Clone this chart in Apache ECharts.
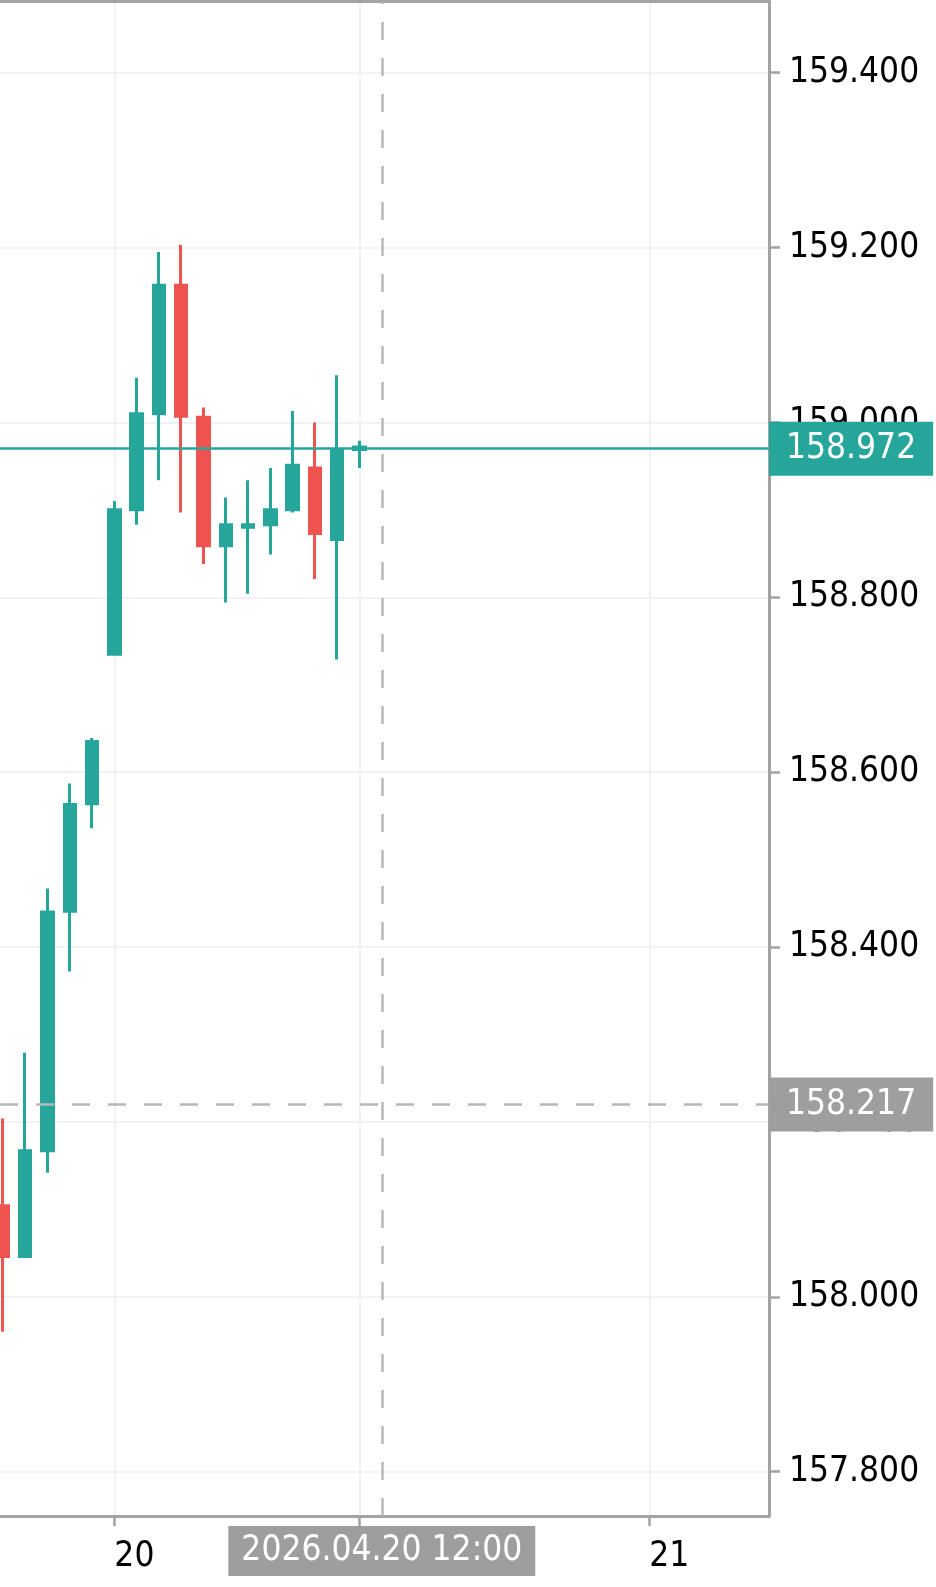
<!DOCTYPE html>
<html>
<head>
<meta charset="utf-8">
<script src="https://cdn.jsdelivr.net/npm/echarts@6/dist/echarts.min.js"></script>
<style>
html,body{margin:0;padding:0;background:#fff;}
#chart{width:936px;height:1587px;}
</style>
</head>
<body>
<div id="chart"></div>
<script>
// Hourly candles, x = hours relative to 2026-04-20 00:00
const hours = [-5, -4, -3, -2, -1, 0, 1, 2, 3, 4, 5, 6, 7, 8, 9, 10, 11];
const opens  = [158.104, 158.046, 158.167, 158.441, 158.564, 158.735, 158.900, 159.010, 159.157, 159.006, 158.859, 158.880, 158.883, 158.900, 158.948, 158.866, 158.969];
const closes = [158.046, 158.167, 158.440, 158.563, 158.635, 158.900, 159.010, 159.157, 159.007, 158.859, 158.883, 158.883, 158.900, 158.951, 158.873, 158.969, 158.972];
const lows   = [157.960, 158.046, 158.142, 158.372, 158.536, 158.735, 158.883, 158.934, 158.897, 158.838, 158.794, 158.804, 158.849, 158.897, 158.821, 158.729, 158.948];
const highs  = [158.204, 158.279, 158.467, 158.587, 158.639, 158.910, 159.051, 159.195, 159.203, 159.017, 158.914, 158.934, 158.948, 159.013, 159.000, 159.054, 158.979];

const xTickValues = [0, 11, 24];
const xLabelValues = [0, 24];
const xLabelTexts = ['20', '21'];
const xRange = [-5.13, 29.37];
const yRange = [157.7493, 159.4814];
const yStep = 0.2;

const lastPrice = 158.972;
const crossY = 158.217;
const crossX = 12;
const crossXLabel = '2026.04.20 12:00';

const FONT = "'DejaVu Sans Condensed', 'DejaVu Sans', sans-serif";
const GREEN = '#26a69a', RED = '#ef5350', AXIS = '#a3a3a3', GRID = '#f2f2f5', CROSS = '#b8b8b8', LABELBG = '#9e9e9e';

const candles = hours.map((h, i) => [h, opens[i], closes[i], lows[i], highs[i]]);

const chart = echarts.init(document.getElementById('chart'), null, {renderer: 'canvas'});
chart.setOption({
  animation: false,
  backgroundColor: '#fff',
  grid: {left: 0, right: 167, top: 1.5, bottom: 71, containLabel: false},
  xAxis: [{
    type: 'value', min: xRange[0], max: xRange[1], position: 'bottom',
    axisLine: {show: true, onZero: false, lineStyle: {color: AXIS, width: 3}},
    axisTick: {show: true, customValues: xTickValues, length: 10, lineStyle: {color: AXIS, width: 2.5}},
    axisLabel: {
      show: true, customValues: xLabelValues, align: 'left', margin: 23,
      fontFamily: FONT, fontSize: 35, color: '#000',
      formatter: v => xLabelTexts[xLabelValues.indexOf(v)] || ''
    },
    splitLine: {show: true, lineStyle: {color: GRID, width: 2}}
  }, {
    type: 'value', min: xRange[0], max: xRange[1], position: 'top',
    axisLine: {show: true, onZero: false, lineStyle: {color: AXIS, width: 3}},
    axisTick: {show: false}, axisLabel: {show: false}, splitLine: {show: false}
  }],
  yAxis: {
    type: 'value', position: 'right', min: yRange[0], max: yRange[1],
    minInterval: yStep, maxInterval: yStep, scale: true,
    axisLine: {show: true, onZero: false, lineStyle: {color: AXIS, width: 3}},
    axisTick: {show: true, length: 11, lineStyle: {color: AXIS, width: 2.5}},
    axisLabel: {
      show: true, margin: 20, showMinLabel: false, showMaxLabel: false,
      fontFamily: FONT, fontSize: 35, color: '#000',
      formatter: v => v.toFixed(3)
    },
    splitLine: {show: true, lineStyle: {color: GRID, width: 2}}
  },
  series: [{
    type: 'candlestick',
    xAxisIndex: 0,
    data: candles,
    encode: {x: 0, y: [1, 2, 3, 4]},
    barWidth: 12,
    itemStyle: {color: GREEN, color0: RED, borderColor: GREEN, borderColor0: RED, borderWidth: 3},
    markLine: {
      symbol: ['none', 'none'],
      silent: true,
      animation: false,
      data: [
        {
          yAxis: crossY,
          lineStyle: {color: CROSS, width: 2.5, type: [18, 18]},
          label: {
            show: true, position: 'end', distance: 0, formatter: crossY.toFixed(3),
            backgroundColor: LABELBG, color: '#fff', fontFamily: FONT, fontSize: 35,
            lineHeight: 36, padding: [9, 17, 9, 17]
          }
        },
        {
          xAxis: crossX,
          lineStyle: {color: CROSS, width: 2.5, type: [18, 18]},
          label: {
            show: true, position: 'start', distance: 10, formatter: crossXLabel,
            backgroundColor: LABELBG, color: '#fff', fontFamily: FONT, fontSize: 35,
            lineHeight: 36, padding: [7, 13, 7, 13]
          }
        },
        {
          yAxis: lastPrice,
          lineStyle: {color: GREEN, width: 2.5, type: 'solid'},
          label: {
            show: true, position: 'end', distance: 0, formatter: lastPrice.toFixed(3),
            backgroundColor: GREEN, color: '#fff', fontFamily: FONT, fontSize: 35,
            lineHeight: 36, padding: [9, 17, 9, 17]
          }
        }
      ]
    }
  }]
});
</script>
</body>
</html>
